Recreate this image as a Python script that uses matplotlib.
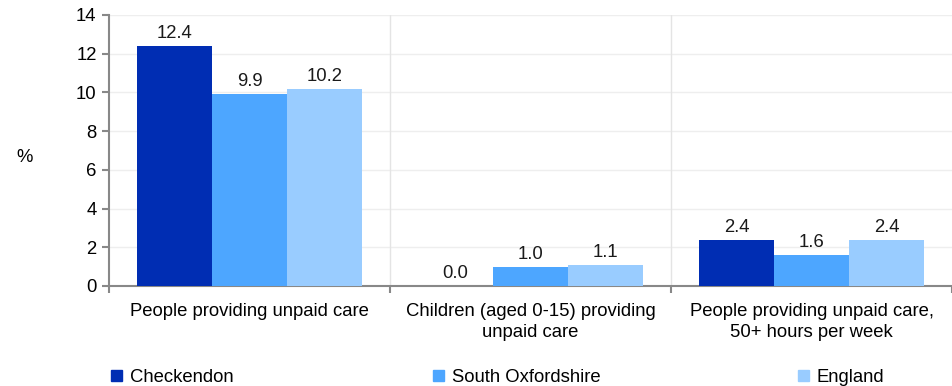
import numpy as np
import matplotlib.pyplot as plt
from matplotlib.patches import Rectangle

plt.rcParams['font.family'] = ['Liberation Sans', 'DejaVu Sans']
plt.rcParams['font.size'] = 13.3

# Data
categories = ['People providing unpaid care',
              'Children (aged 0-15) providing\nunpaid care',
              'People providing unpaid care,\n50+ hours per week']
series_names = ['Checkendon', 'South Oxfordshire', 'England']
checkendon = [12.4, 0.0, 2.4]
south_oxon = [9.9, 1.0, 1.6]
england = [10.2, 1.1, 2.4]
colors = ['#002db3', '#4da6ff', '#99ccff']

fig = plt.figure(figsize=(9.52, 3.86), dpi=100)
ax = fig.add_axes([109 / 952, 1 - 286 / 386, 1 - 109 / 952, (286 - 15) / 386])

x = np.arange(len(categories))
w = 0.8 / 3
for i, (vals, c) in enumerate(zip([checkendon, south_oxon, england], colors)):
    pos = x + (i - 1) * w
    ax.bar(pos, vals, width=w, color=c, zorder=3)
    for p, v in zip(pos, vals):
        ax.text(p, v + 0.2, f'{v:.1f}', ha='center', va='bottom', color='#1a1a1a')

ax.set_xlim(-0.5, 2.5)
ax.set_ylim(0, 14)
ax.set_yticks(range(0, 15, 2))
ax.set_xticks(x)
ax.set_xticklabels(categories, linespacing=1.3)
ax.set_xticks([-0.5, 0.5, 1.5, 2.5], minor=True)
ax.tick_params(axis='x', which='major', length=0, pad=12)
ax.tick_params(axis='x', which='minor', length=5, color='#888888', width=1.5)
ax.tick_params(axis='y', length=5, color='#888888', width=1.5, pad=4)

# gridlines
for yv in range(2, 15, 2):
    ax.axhline(yv, color='#eeeeee', lw=1, zorder=0)
for xv in [0.5, 1.5]:
    ax.axvline(xv, color='#e4e4e4', lw=1, zorder=0)

for s in ['top', 'right']:
    ax.spines[s].set_visible(False)
for s in ['left', 'bottom']:
    ax.spines[s].set_color('#888888')
    ax.spines[s].set_linewidth(1.5)

fig.text(25 / 952, 1 - 158 / 386, '%', ha='center', va='center')

# legend
legend_x = [111, 433, 798]
for lx, name, c in zip(legend_x, series_names, colors):
    fig.patches.append(Rectangle((lx / 952, 1 - 381 / 386), 11 / 952, 11 / 386,
                                 transform=fig.transFigure, color=c))
    fig.text((lx + 19) / 952, 1 - 375 / 386, name, ha='left', va='center_baseline')

fig.savefig('out.png', dpi=100)
